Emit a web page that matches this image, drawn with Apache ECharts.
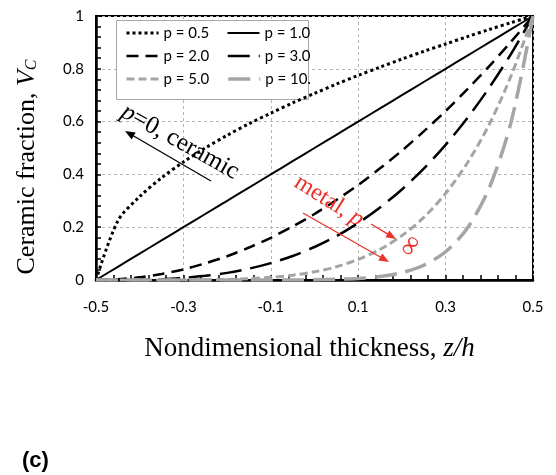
<!DOCTYPE html>
<html>
<head>
<meta charset="utf-8">
<script src="https://cdn.jsdelivr.net/npm/echarts@6/dist/echarts.min.js"></script>
<style>html,body{margin:0;padding:0;background:#fff}#c{width:556px;height:475px}</style>
</head>
<body>
<div id="c"></div>
<script>
// Nondimensional thickness z/h
const zh = [-0.5,-0.45,-0.4,-0.35,-0.3,-0.25,-0.2,-0.15,-0.1,-0.05,0,0.05,0.1,0.15,0.2,0.25,0.3,0.35,0.4,0.45,0.5];
// Ceramic fraction Vc for each power-law index p
const vcP05 = [0,0.224,0.316,0.387,0.447,0.5,0.548,0.592,0.632,0.671,0.707,0.742,0.775,0.806,0.837,0.866,0.894,0.922,0.949,0.975,1];
const vcP1  = [0,0.05,0.1,0.15,0.2,0.25,0.3,0.35,0.4,0.45,0.5,0.55,0.6,0.65,0.7,0.75,0.8,0.85,0.9,0.95,1];
const vcP2  = [0,0.003,0.01,0.023,0.04,0.063,0.09,0.123,0.16,0.203,0.25,0.303,0.36,0.423,0.49,0.563,0.64,0.723,0.81,0.903,1];
const vcP3  = [0,0,0.001,0.003,0.008,0.016,0.027,0.043,0.064,0.091,0.125,0.166,0.216,0.275,0.343,0.422,0.512,0.614,0.729,0.857,1];
const vcP5  = [0,0,0,0,0,0.001,0.002,0.005,0.01,0.018,0.031,0.05,0.078,0.116,0.168,0.237,0.328,0.444,0.59,0.774,1];
const vcP10 = [0,0,0,0,0,0,0,0,0,0,0.001,0.003,0.006,0.013,0.028,0.056,0.107,0.197,0.349,0.599,1];
const seriesNames = ['p = 0.5','p = 1.0','p = 2.0','p = 3.0','p = 5.0','p = 10.'];
const xTickLabels = ['-0.5','-0.3','-0.1','0.1','0.3','0.5'];
const yTickLabels = ['0','0.2','0.4','0.6','0.8','1'];

const pair = arr => zh.map((x,i)=>[x, arr[i]]);
const black = '#000', gray = '#a5a5a5';
const styles = [
  {color:black, width:3, type:[3,3]},
  {color:black, width:2, type:'solid'},
  {color:black, width:2.5, type:[12,7]},
  {color:black, width:2.5, type:[22,9]},
  {color:gray, width:3, type:[8,4]},
  {color:gray, width:3.5, type:[22,9]}
];
const vals = [vcP05, vcP1, vcP2, vcP3, vcP5, vcP10];

function arrow(x1,y1,x2,y2,color,w){
  const a = Math.atan2(y2-y1,x2-x1), L=10, W=4;
  const c = Math.cos(a), s = Math.sin(a);
  const bx = x2 - L*c, by = y2 - L*s;
  return [
    {type:'line', shape:{x1:x1,y1:y1,x2:bx+2*c,y2:by+2*s}, style:{stroke:color,lineWidth:w}, z:100},
    {type:'polygon', shape:{points:[[x2,y2],[bx - W*s, by + W*c],[bx + W*s, by - W*c]]}, style:{fill:color}, z:100}
  ];
}
const red = '#e8322a';
const serif = '"Liberation Serif","Times New Roman",serif';
const sans = 'Lato, "Liberation Sans", sans-serif';

const chart = echarts.init(document.getElementById('c'), null, {renderer:'canvas'});
chart.setOption({
  animation:false,
  backgroundColor:'#fff',
  grid:{left:96, right:23, top:16, bottom:195, show:true, borderColor:'#000', borderWidth:2, backgroundColor:'transparent'},
  legend:{
    data:seriesNames.map((n,k)=>({name:n, itemStyle:{opacity:0},
      lineStyle:{color:styles[k].color, width:styles[k].width, type:styles[k].type, cap:'butt'}})),
    left:125, top:24, width:205, orient:'horizontal', padding:0, z:10,
    itemWidth:32, itemHeight:12, itemGap:5,
    textStyle:{fontFamily:sans, fontSize:15, color:'#000', width:58, lineHeight:18}
  },
  xAxis:{
    type:'value', min:-0.5, max:0.5, interval:0.2,
    axisLine:{onZero:false, lineStyle:{color:'#000', width:2.5}},
    axisTick:{inside:true, length:5, lineStyle:{color:'#000', width:1.5}},
    minorTick:{show:true, splitNumber:5, length:5, lineStyle:{color:'#000', width:1.5}},
    splitLine:{show:true, lineStyle:{color:'#b5b5b5', type:[3,3], width:1}},
    axisLabel:{margin:20, fontFamily:sans, fontSize:15, color:'#000',
      formatter:(v)=>{const i=Math.round((v+0.5)/0.2); return xTickLabels[i];}},
    name:'{a|Nondimensional thickness, }{i|z/h}', nameLocation:'middle', nameGap:55,
    nameTextStyle:{padding:[0,10,0,0], rich:{a:{fontFamily:serif, fontSize:27, color:'#000'}, i:{fontFamily:serif, fontSize:27, fontStyle:'italic', color:'#000'}}}
  },
  yAxis:{
    type:'value', min:0, max:1, interval:0.2,
    axisLine:{show:true, onZero:false, lineStyle:{color:'#000', width:2.5}},
    axisTick:{show:true, inside:true, length:5, lineStyle:{color:'#000', width:1.5}},
    minorTick:{show:true, splitNumber:5, length:5, lineStyle:{color:'#000', width:1.5}},
    splitLine:{show:true, lineStyle:{color:'#b5b5b5', type:[3,3], width:1}},
    axisLabel:{margin:12, fontFamily:sans, fontSize:15, color:'#000',
      formatter:(v)=>yTickLabels[Math.round(v/0.2)]},
    name:'{a|Ceramic fraction, }{i|V}{s|C}', nameLocation:'middle', nameGap:56, nameRotate:90,
    nameTextStyle:{padding:[0,38,0,0], rich:{
      a:{fontFamily:serif, fontSize:26, color:'#000'},
      i:{fontFamily:serif, fontSize:26, fontStyle:'italic', color:'#000'},
      s:{fontFamily:serif, fontSize:16, fontStyle:'italic', color:'#000', verticalAlign:'bottom', padding:[9,0,0,0]}
    }}
  },
  series: vals.map((v,k)=>({
    name:seriesNames[k], type:'line', data:pair(v), smooth:0.3, symbol:'none',
    lineStyle:{color:styles[k].color, width:styles[k].width, type:styles[k].type, cap:'butt'},
    itemStyle:{color:styles[k].color}
  })),
  graphic:[
    {type:'rect', shape:{x:116.5, y:20.5, width:192, height:79}, style:{fill:'#fff', stroke:'#a8a8a8', lineWidth:1}, z:3},
    {type:'text', x:180, y:142, rotation:-29*Math.PI/180, z:100,
     style:{text:'{i|p}{a|=0, ceramic}', align:'center', verticalAlign:'middle',
       rich:{i:{fontFamily:serif, fontSize:25, fontStyle:'italic', fill:'#000'}, a:{fontFamily:serif, fontSize:25, fill:'#000'}}}},
    ...arrow(211,181,125,131,'#000',1.3),
    {type:'text', x:329, y:201, rotation:-32*Math.PI/180, z:100,
     style:{text:'{a|metal, }{i|p}', align:'center', verticalAlign:'middle',
       rich:{i:{fontFamily:serif, fontSize:24, fontStyle:'italic', fill:red}, a:{fontFamily:serif, fontSize:24, fill:red}}}},
    ...arrow(371,224,396,239,red,1.3),
    {type:'text', x:411, y:246, rotation:55*Math.PI/180, z:100,
     style:{text:'∞', align:'center', verticalAlign:'middle', font:'28px '+serif, fill:red}},
    ...arrow(303,213,389,262,red,1.3),
    {type:'text', x:22, y:461, z:100, style:{text:'(c)', font:'bold 22px "Liberation Sans", Arial, sans-serif', fill:'#000', verticalAlign:'middle'}}
  ]
});
</script>
</body>
</html>
